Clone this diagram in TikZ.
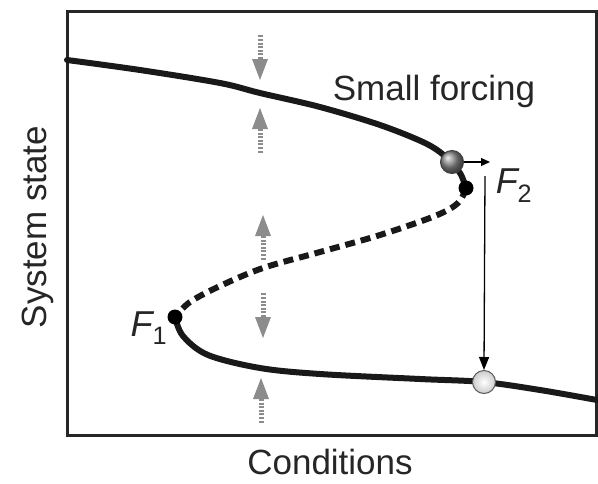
\documentclass[tikz,border=0pt]{standalone}
\usepackage{fontspec}
\setmainfont{Liberation Sans}
\usetikzlibrary{arrows.meta}
\tikzset{
  curve/.style={line width=6pt, black!90, line cap=round},
  unstable/.style={line width=6pt, black!90, dash pattern=on 10pt off 6pt},
  lbl/.style={font=\fontsize{35}{38}\selectfont, inner sep=0pt, text=black!85},
  flabel/.style={font=\fontsize{36}{38}\selectfont\itshape, inner sep=0pt, text=black!85},
  dot/.style={circle, fill=black, minimum size=15pt, inner sep=0pt},
  greyball/.style={circle, draw=black!75, line width=1pt, shading=ball, ball color=gray!90, minimum size=23pt, inner sep=0pt},
  whiteball/.style={circle, draw=black!65, line width=1pt, inner color=white, outer color=gray!40, minimum size=23pt, inner sep=0pt},
  garrow/.pic={
    \fill[gray!90] (0,0) -- (-8,21) -- (8,21) -- cycle;
    \draw[gray!90, line width=5pt, dash pattern=on 2pt off 1.6pt] (0,21) -- (0,45);
  }
}
\begin{document}
\begin{tikzpicture}[x=1pt, y=-1pt]
\useasboundingbox (0,0) rectangle (598,483);
% frame
\draw[line width=3pt, black!85] (67,11) rectangle (596,435);
% curves
\draw[curve] plot[smooth, tension=0.55] coordinates {(67,60) (140,70) (220,83) (260,93) (320,107) (380,125) (425,143) (446,157) (460,173) (466,188)};
\draw[unstable] plot[smooth, tension=0.55] coordinates {(466,188) (458,203) (435,216) (380,235) (320,252) (263,268) (220,286) (190,302) (175,317)};
\draw[curve] plot[smooth, tension=0.55] coordinates {(175,317) (183,336) (208,355) (260,368) (320,374) (420,379) (483,382) (540,390) (597,400)};
% grey arrows
\pic[rotate=180] at (260,80) {garrow};
\pic at (260,108) {garrow};
\pic at (263,215) {garrow};
\pic[rotate=180] at (263,338) {garrow};
\pic at (261,378) {garrow};
% points
\node[dot] (f2dot) at (466,188) {};
\node[dot] (f1dot) at (175,317) {};
\node[greyball] (ball) at (452,162) {};
\node[whiteball] (wball) at (484,382) {};
\coordinate (push) at (490,162);
\coordinate (dropstart) at (485,176);
\draw[line width=1.3pt, -{Triangle[length=9pt, width=8pt]}] (ball.east) -- (push);
\draw[line width=1.3pt, -{Triangle[length=13pt, width=10pt]}] (dropstart) -- (wball.north);
% labels
\node[flabel] (f2) at (514,186) {F\textsubscript{\upshape 2}};
\node[flabel] (f1) at (149,328) {F\textsubscript{\upshape 1}};
\node[lbl] (sf) at (434,91) {Small forcing};
\node[lbl] (cond) at (330,462) {Conditions};
\node[lbl, rotate=90] (ss) at (38,227) {System state};
\end{tikzpicture}
\end{document}
